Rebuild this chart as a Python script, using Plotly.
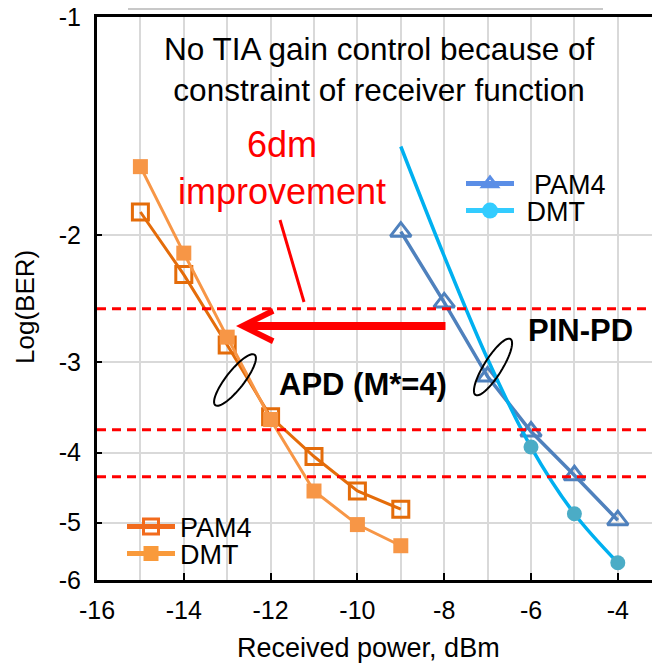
import math
import plotly.graph_objects as go

# ---------------- data (Log(BER) values) ----------------
apd_power = [-15, -14, -13, -12, -11, -10, -9]
apd_pam4_logber = [-1.86, -2.27, -2.84, -3.57, -4.05, -4.52, -4.79]
apd_dmt_logber = [-1.61, -2.12, -2.77, -3.60, -4.52, -5.03, -5.38]

pin_power = [-9, -8, -7, -6, -5, -4]
pin_pam4_logber = [-1.98, -2.48, -3.14, -3.74, -4.30, -4.96]
pin_dmt_logber = [-1.51, -2.14, -2.97, -3.93, -4.86, -5.68]
pin_dmt_marker_visible = [False, False, False, True, True, True]

threshold_logber = [-2.53, -3.72, -4.32]

y_tick_values = [-1, -2, -3, -4, -5, -6]
y_tick_labels = ["-1", "-2", "-3", "-4", "-5", "-6"]
x_tick_values = [-16, -14, -12, -10, -8, -6, -4]
x_tick_labels = ["-16", "-14", "-12", "-10", "-8", "-6", "-4"]

# ---------------- layout geometry ----------------
# the page body has an 8px margin, so the figure is drawn 8px in from the window corner
OFF = 8
PLOT_LEFT, PLOT_TOP, PLOT_BOTTOM, WIN_W, WIN_H = 97, 17, 580, 660, 664
W, H = WIN_W - OFF, WIN_H - OFF
L, T = PLOT_LEFT - OFF, PLOT_TOP - OFF
R = 0
PW = WIN_W - PLOT_LEFT
PH = PLOT_BOTTOM - PLOT_TOP
B = H - T - PH
X_MIN = -16
PX_PER_DBM = 43.4
X_MAX = X_MIN + PW / PX_PER_DBM

FONT = "Liberation Sans, Arial, sans-serif"


def pxx(xs):
    """window x pixel -> paper fraction"""
    return (xs - PLOT_LEFT) / PW


def pxy(ys):
    """window y pixel -> paper fraction"""
    return (PLOT_BOTTOM - ys) / PH


def neg(vals):
    return [-v for v in vals]


C_APD_PAM4 = "#E46C0A"
C_APD_DMT = "#F79646"
C_PIN_PAM4 = "#4F81BD"
C_PIN_DMT = "#00B0F0"
C_PIN_DMT_MK = "#4BACC6"

fig = go.Figure()

# APD PAM4
fig.add_trace(go.Scatter(
    x=apd_power, y=neg(apd_pam4_logber), mode="lines+markers",
    line=dict(color=C_APD_PAM4, width=3),
    marker=dict(symbol="square-open", size=16, color=C_APD_PAM4, line=dict(width=3, color=C_APD_PAM4)),
    showlegend=False))
# APD DMT
fig.add_trace(go.Scatter(
    x=apd_power, y=neg(apd_dmt_logber), mode="lines+markers",
    line=dict(color=C_APD_DMT, width=3),
    marker=dict(symbol="square", size=15, color=C_APD_DMT),
    showlegend=False))
# PIN PAM4
fig.add_trace(go.Scatter(
    x=pin_power, y=neg(pin_pam4_logber), mode="lines+markers",
    line=dict(color=C_PIN_PAM4, width=3.5),
    marker=dict(symbol="triangle-up-open", size=18, color=C_PIN_PAM4, line=dict(width=3, color=C_PIN_PAM4)),
    showlegend=False))
# PIN DMT line (smooth)
fig.add_trace(go.Scatter(
    x=pin_power, y=neg(pin_dmt_logber), mode="lines",
    line=dict(color=C_PIN_DMT, width=3.5, shape="spline", smoothing=1.0),
    showlegend=False))
# PIN DMT markers
fig.add_trace(go.Scatter(
    x=[p for p, v in zip(pin_power, pin_dmt_marker_visible) if v],
    y=[-b for b, v in zip(pin_dmt_logber, pin_dmt_marker_visible) if v],
    mode="markers",
    marker=dict(symbol="circle", size=15, color=C_PIN_DMT_MK),
    showlegend=False))

# threshold dashed lines
for t in threshold_logber:
    fig.add_shape(type="line", xref="paper", yref="y", x0=0, x1=1, y0=-t, y1=-t,
                  line=dict(color="#FF0000", width=3, dash="9px,6px"), layer="above")

# legend-only traces, each in its own legend for exact placement
legend_items = [
    ("legend", "PAM4", "#F26B1D", "square-open", 15, True),
    ("legend2", "DMT", "#F99A3B", "square", 15, False),
    ("legend3", "\u00a0\u00a0PAM4", "#5B8EE6", "triangle-up-open", 13, True),
    ("legend4", "\u00a0DMT", "#33CCFF", "circle", 16, False),
]
for lg, name, col, sym, sz, openm in legend_items:
    mk = dict(symbol=sym, size=sz, color=col)
    if openm:
        mk["line"] = dict(width=3, color=col)
    fig.add_trace(go.Scatter(x=[None], y=[None], mode="lines+markers", name=name,
                             line=dict(color=col, width=5), marker=mk, legend=lg,
                             showlegend=True))

leg_common = dict(bgcolor="rgba(0,0,0,0)", borderwidth=0, itemwidth=48,
                  font=dict(family=FONT, size=27, color="black"),
                  xanchor="left", yanchor="middle", itemclick=False)
legend_pos = {
    "legend": (122, 527),
    "legend2": (122, 554),
    "legend3": (461, 184),
    "legend4": (461, 211),
}
layout_legends = {k: dict(x=pxx(v[0]), y=pxy(v[1]), **leg_common) for k, v in legend_pos.items()}

# ---------------- annotations ----------------
def text_ann(xs, ys, text, size, color="black", angle=0):
    return dict(x=pxx(xs), y=pxy(ys), xref="paper", yref="paper", showarrow=False,
                xanchor="center", yanchor="middle", text=text, textangle=angle,
                align="center", font=dict(family=FONT, size=size, color=color))


ann = [
    text_ann(379, 69, "No TIA gain control because of<br>constraint of receiver function", 31.5),
    text_ann(282, 168, "6dm<br>improvement", 36, "#FF0000"),
    text_ann(580, 330, "<b>PIN-PD</b>", 31),
    text_ann(363, 384, "<b>APD (M*=4)</b>", 31),
    text_ann(25, 307, "Log(BER)", 26, angle=-90),
    text_ann(368, 648, "Received power, dBm", 27),
]
# arrow
ann.append(dict(x=pxx(236), y=pxy(326), xref="paper", yref="paper", showarrow=True,
                ax=447 - 236, ay=0, arrowhead=5, arrowwidth=8, arrowsize=0.75,
                arrowcolor="#FF0000", text=""))

# ---------------- shapes ----------------
shapes = []
# red slanted pointer line
shapes.append(dict(type="line", xref="paper", yref="paper",
                   x0=pxx(280), y0=pxy(220), x1=pxx(304), y1=pxy(302),
                   line=dict(color="#FF0000", width=3)))
# top grey line (border of box above)
shapes.append(dict(type="line", xref="paper", yref="paper",
                   x0=pxx(128), y0=pxy(OFF + 1), x1=pxx(603), y1=pxy(OFF + 1),
                   line=dict(color="#C8C8C8", width=2)))


def ellipse_path(cx, cy, a, b, ang_deg, n=60):
    th = math.radians(ang_deg)
    pts = []
    for i in range(n + 1):
        t = 2 * math.pi * i / n
        ex, ey = a * math.cos(t), b * math.sin(t)
        X = cx + ex * math.cos(th) - ey * math.sin(th)
        Y = cy - (ex * math.sin(th) + ey * math.cos(th))
        pts.append((pxx(X), pxy(Y)))
    return "M " + " L ".join(f"{p[0]:.5f},{p[1]:.5f}" for p in pts) + " Z"


shapes.append(dict(type="path", xref="paper", yref="paper",
                   path=ellipse_path(235, 380, 32, 9, 52), line=dict(color="black", width=2)))
shapes.append(dict(type="path", xref="paper", yref="paper",
                   path=ellipse_path(493, 367, 33, 9, 58), line=dict(color="black", width=2)))

for s in shapes:
    fig.add_shape(**s)

fig.update_layout(
    width=W, height=H, margin=dict(l=L, r=R, t=T, b=B, autoexpand=False),
    paper_bgcolor="white", plot_bgcolor="white",
    font=dict(family=FONT, color="black"),
    annotations=ann,
    **layout_legends,
)

fig.update_xaxes(
    range=[X_MIN, X_MAX], tickvals=x_tick_values, ticktext=x_tick_labels,
    ticks="inside", ticklen=7, tickwidth=2, tickcolor="black",
    tickfont=dict(family=FONT, size=25, color="black"), ticklabelstandoff=6,
    ticklabeloverflow="allow",
    showline=True, linewidth=3, linecolor="black", mirror=True,
    showgrid=True, gridcolor="#D9D9D9", gridwidth=1.5,
    minor=dict(dtick=1, tick0=-16, showgrid=True, gridcolor="#D9D9D9", gridwidth=1.5, ticks=""),
    zeroline=False,
)
fig.update_yaxes(
    type="log", range=[math.log10(6), 0],
    tickvals=[-v for v in y_tick_values], ticktext=y_tick_labels,
    ticks="inside", ticklen=5, tickwidth=1.5, tickcolor="black",
    tickfont=dict(family=FONT, size=25, color="black"), ticklabelstandoff=8,
    ticklabeloverflow="allow",
    showline=True, linewidth=3, linecolor="black",
    showgrid=True, gridcolor="#D9D9D9", gridwidth=1.5,
    zeroline=False,
)

fig.write_html("out.html")
